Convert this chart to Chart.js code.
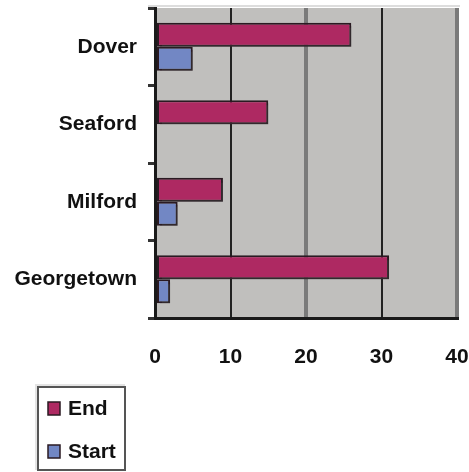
<!DOCTYPE html>
<html>
<head>
<meta charset="utf-8">
<script src="https://cdn.jsdelivr.net/npm/chart.js@4/dist/chart.umd.min.js"></script>
<style>
  html, body { margin: 0; padding: 0; background: #ffffff; }
  #wrap { width: 469px; height: 472px; position: relative; }
</style>
</head>
<body>
<div id="wrap"><canvas id="c" width="469" height="472"></canvas></div>
<script>
const categories = ['Dover', 'Seaford', 'Milford', 'Georgetown'];
const endValues = [26, 15, 9, 31];
const startValues = [5, 0, 3, 2];
const seriesNames = ['End', 'Start'];
const seriesColors = ['#AE2962', '#7287C4'];
const xMin = 0, xMax = 40, xStep = 10;

const FONT = "'Liberation Sans', Arial, sans-serif";

function noPad(s) {
  s.paddingTop = 0; s.paddingBottom = 0; s.paddingLeft = 0; s.paddingRight = 0;
}

const decor = {
  id: 'decor',
  beforeDraw(chart) {
    const { ctx, chartArea: a } = chart;
    ctx.save();
    ctx.fillStyle = '#C0BFBD';
    ctx.fillRect(a.left, a.top, a.right - a.left, a.bottom - a.top);
    ctx.fillStyle = '#DDDDDD';
    ctx.fillRect(a.left - 7, a.top - 3, a.right - a.left + 10, 2);
    ctx.restore();
  },
  beforeDatasetsDraw(chart) {
    const ctx = chart.ctx;
    ctx.save();
    ctx.shadowColor = 'rgba(60,60,60,0.45)';
    ctx.shadowOffsetX = 3;
    ctx.shadowOffsetY = 3;
    ctx.shadowBlur = 0;
  },
  afterDatasetsDraw(chart) {
    chart.ctx.restore();
  },
  afterDraw(chart) {
    const ctx = chart.ctx;
    ctx.save();
    const bx = 38, by = 387, bw = 87, bh = 83;
    ctx.fillStyle = '#E4E4E4';
    ctx.fillRect(bx - 3, by - 3, bw + 3, 3);
    ctx.fillRect(bx - 3, by - 3, 3, bh + 3);
    ctx.strokeStyle = '#555555';
    ctx.lineWidth = 2;
    ctx.strokeRect(bx, by, bw, bh);
    ctx.font = 'bold 21px ' + FONT;
    ctx.textBaseline = 'middle';
    ctx.textAlign = 'left';
    const rows = [408, 451];
    chart.data.datasets.forEach((ds, i) => {
      const y = rows[i];
      ctx.fillStyle = ds.backgroundColor;
      ctx.fillRect(48, y - 6, 12, 13);
      ctx.strokeStyle = '#2a1a22';
      ctx.lineWidth = 1.5;
      ctx.strokeRect(48, y - 6, 12, 13);
      ctx.fillStyle = '#111111';
      ctx.fillText(ds.label, 68, y + 1);
    });
    ctx.restore();
  }
};

new Chart(document.getElementById('c'), {
  type: 'bar',
  data: {
    labels: categories,
    datasets: [
      { label: seriesNames[0], data: endValues, backgroundColor: seriesColors[0] },
      { label: seriesNames[1], data: startValues, backgroundColor: seriesColors[1] }
    ]
  },
  options: {
    indexAxis: 'y',
    responsive: false,
    animation: false,
    devicePixelRatio: 1,
    layout: { padding: { top: 8, right: 12, bottom: 0, left: 0 } },
    datasets: {
      bar: {
        categoryPercentage: 0.62,
        barPercentage: 1.0,
        borderColor: '#2a1a22',
        borderWidth: (c) => (c.raw ? 2 : 0),
        borderSkipped: false
      }
    },
    plugins: {
      legend: { display: false },
      tooltip: { enabled: false }
    },
    scales: {
      x: {
        min: xMin,
        max: xMax,
        ticks: {
          stepSize: xStep,
          color: '#111111',
          font: { family: FONT, size: 21, weight: 'bold' },
          padding: 27
        },
        grid: {
          drawTicks: false,
          color: (c) => {
            const v = c.tick ? c.tick.value : 0;
            if (v === 0) return 'rgba(0,0,0,0)';
            return (v / xStep) % 2 === 1 ? '#222222' : '#7A7A7A';
          },
          lineWidth: (c) => {
            const v = c.tick ? c.tick.value : 0;
            return (v / xStep) % 2 === 1 ? 2 : 4;
          }
        },
        border: { color: '#1a1a1a', width: 3 },
        afterFit: (s) => { s.height = 154; noPad(s); }
      },
      y: {
        ticks: {
          color: '#111111',
          font: { family: FONT, size: 21, weight: 'bold' },
          padding: 11
        },
        grid: {
          drawOnChartArea: false,
          drawTicks: true,
          tickLength: 7,
          color: '#333333',
          lineWidth: 3
        },
        border: { color: '#1a1a1a', width: 3 },
        afterFit: (s) => { s.width = 155; noPad(s); }
      }
    }
  },
  plugins: [decor]
});
</script>
</body>
</html>
